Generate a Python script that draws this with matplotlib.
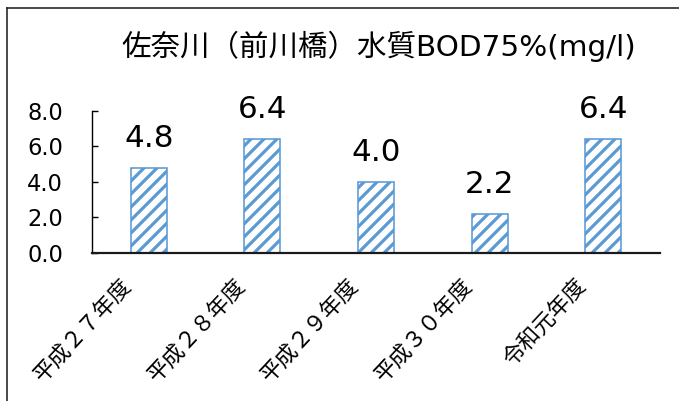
import matplotlib
matplotlib.use('Agg')
import matplotlib.pyplot as plt
import matplotlib.transforms as mtransforms
from matplotlib.lines import Line2D

DPI = 78
W, H = 680, 401


def pt(px):
    return px * 72.0 / DPI


categories = ['平成２７年度', '平成２８年度', '平成２９年度', '平成３０年度', '令和元年度']
values = [4.8, 6.4, 4.0, 2.2, 6.4]
yticks = [0, 2, 4, 6, 8]
ytick_labels = ['0.0', '2.0', '4.0', '6.0', '8.0']
title = '佐奈川（前川橋）水質BOD75%(mg/l)'

BLUE = '#5B9BD5'
plt.rcParams['hatch.linewidth'] = pt(3.2)

fig = plt.figure(figsize=(W / DPI, H / DPI), dpi=DPI)
fig.patch.set_facecolor('white')

# outer chart border (top and left visible)
fig.add_artist(Line2D([7 / W, 1.0], [1 - 8 / H, 1 - 8 / H], transform=fig.transFigure,
                      color='#222222', lw=pt(1.6)))
fig.add_artist(Line2D([7 / W, 7 / W], [0.0, 1 - 8 / H], transform=fig.transFigure,
                      color='#222222', lw=pt(1.6)))

left, right, top, bottom = 92, 660, 110.7, 253
ax = fig.add_axes([left / W, 1 - bottom / H, (right - left) / W, (bottom - top) / H])
ax.set_facecolor('none')

x = list(range(len(categories)))
bars = ax.bar(x, values, width=0.317, color='white', edgecolor=BLUE,
              linewidth=pt(1.6), hatch='//', zorder=2)

for xi, v in zip(x, values):
    ax.annotate(f'{v:.1f}', xy=(xi, v), xytext=(0, pt(21)), textcoords='offset points',
                ha='center', va='baseline', fontsize=pt(31), family='DejaVu Sans',
                color='black')

ax.set_xlim(-0.5, len(categories) - 0.5)
ax.set_ylim(0, 8)
ax.set_yticks(yticks)
ax.set_yticklabels(ytick_labels, family='DejaVu Sans', fontsize=pt(22.5))
ax.tick_params(axis='y', direction='in', length=pt(6), width=pt(1.4), pad=pt(29),
               colors='black')

ax.set_xticks(x)
ax.set_xticklabels(categories, family=['Noto Sans CJK JP', 'DejaVu Sans'],
                   fontsize=pt(22), rotation=47, ha='right', va='center',
                   rotation_mode='anchor')
ax.tick_params(axis='x', length=0, pad=pt(30))
offset = mtransforms.ScaledTranslation(-20 / DPI, 0, fig.dpi_scale_trans)
for lab in ax.get_xticklabels():
    lab.set_transform(lab.get_transform() + offset)

for s in ['top', 'right']:
    ax.spines[s].set_visible(False)
ax.spines['left'].set_linewidth(pt(1.4))
ax.spines['left'].set_color('black')
ax.spines['bottom'].set_linewidth(pt(2.2))
ax.spines['bottom'].set_color('#1a1a1a')
ax.spines['bottom'].set_zorder(3)

fig.text(379 / W, 1 - 46 / H, title, ha='center', va='center',
         fontsize=pt(29.5), family=['DejaVu Sans', 'Noto Sans CJK JP'], color='black')

fig.savefig('out.png', dpi=DPI, facecolor='white')
